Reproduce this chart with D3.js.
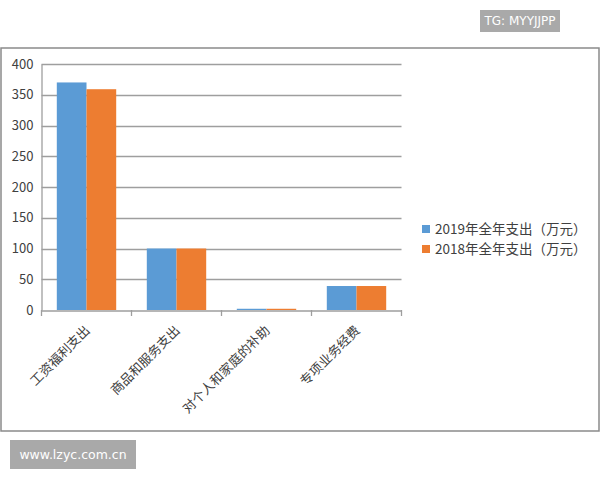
<!DOCTYPE html>
<html><head><meta charset="utf-8">
<script src="https://cdn.jsdelivr.net/npm/d3@7"></script>
<style>body{margin:0;background:#fff;}svg{display:block;}</style>
</head><body>
<svg id="c" width="600" height="480"></svg>
<script>
const categories = ["工资福利支出","商品和服务支出","对个人和家庭的补助","专项业务经费"];
const seriesNames = ["2019年全年支出（万元）","2018年全年支出（万元）"];
const values2019 = [370, 100, 2, 39];
const values2018 = [359, 100, 2, 39];
const yTicks = [0,50,100,150,200,250,300,350,400];
const colors = ["#5b9bd5","#ed7d31"];

const svg = d3.select("#c");
const font = "'Noto Sans CJK SC','Noto Sans',sans-serif";

// chart border
svg.append("rect").attr("x",1).attr("y",48).attr("width",598).attr("height",383)
  .attr("fill","#fff").attr("stroke","#8a8a8a").attr("stroke-width",1.5);

const x = d3.scaleBand().domain(categories).range([41.5,401.5]).paddingInner(0.34).paddingOuter(0.17);
const x0 = d3.scaleBand().domain(categories).range([41.5,401.5]);
const y = d3.scaleLinear().domain([0,400]).range([310,64]);
const xs = d3.scaleBand().domain([0,1]).range([0,x.bandwidth()]);

// gridlines
svg.append("g").selectAll("line").data(yTicks.filter(d=>d>0)).join("line")
  .attr("x1",41.5).attr("x2",401.5).attr("y1",d=>Math.round(y(d))+0.5).attr("y2",d=>Math.round(y(d))+0.5)
  .attr("stroke","#9e9e9e").attr("stroke-width",1.3);

// y axis
const ya = svg.append("g").attr("transform","translate(41.5,0)")
  .call(d3.axisLeft(y).tickValues(yTicks).tickSize(0).tickPadding(8));
ya.select(".domain").attr("stroke","#9e9e9e").attr("stroke-width",1.3);
ya.selectAll("text").attr("font-family",font).attr("font-size",13).attr("fill","#404040");

// bars
const data = categories.map((c,i)=>({c, v:[values2019[i], values2018[i]]}));
const g = svg.append("g");
data.forEach(d=>{
  d.v.forEach((v,k)=>{
    g.append("rect").attr("x",x(d.c)+xs(k)).attr("width",xs.bandwidth())
      .attr("y",y(v)).attr("height",y(0)-y(v)).attr("fill",colors[k]);
  });
});

// x axis
const xa = svg.append("g").attr("transform","translate(0,310.5)")
  .call(d3.axisBottom(x0).tickSize(0).tickFormat(""));
xa.select(".domain").attr("stroke","#9e9e9e").attr("stroke-width",1.3);
const bounds = [41.5].concat(categories.map(c=>x0(c)+x0.bandwidth()));
svg.append("g").selectAll("line").data(bounds).join("line")
  .attr("x1",d=>d).attr("x2",d=>d).attr("y1",310).attr("y2",316)
  .attr("stroke","#9e9e9e").attr("stroke-width",1.3);

// category labels rotated
svg.append("g").selectAll("text").data(categories).join("text")
  .attr("transform",d=>`translate(${x0(d)+x0.bandwidth()/2+1},${328}) rotate(-45)`)
  .attr("text-anchor","end").attr("dy","0.35em")
  .attr("font-family",font).attr("font-size",13).attr("fill","#404040")
  .text(d=>d);

// legend
const lg = svg.append("g");
seriesNames.forEach((s,i)=>{
  lg.append("rect").attr("x",422).attr("y",225+i*20).attr("width",8).attr("height",8).attr("fill",colors[i]);
  lg.append("text").attr("x",435).attr("y",229+i*20).attr("dy","0.35em")
    .attr("font-family",font).attr("font-size",13.5).attr("fill","#404040").text(s);
});

// watermarks
svg.append("rect").attr("x",480).attr("y",10).attr("width",80).attr("height",22).attr("fill","#a9a9a9");
svg.append("text").attr("x",520).attr("y",21).attr("dy","0.35em").attr("text-anchor","middle")
  .attr("font-family","'DejaVu Sans',sans-serif").attr("font-size",12).attr("fill","#fff").text("TG: MYYJJPP");
svg.append("rect").attr("x",10).attr("y",440).attr("width",126).attr("height",29).attr("fill","#a9a9a9");
svg.append("text").attr("x",73).attr("y",455).attr("dy","0.35em").attr("text-anchor","middle")
  .attr("font-family","'DejaVu Sans',sans-serif").attr("font-size",12.5).attr("fill","#fff").text("www.lzyc.com.cn");
</script>
</body></html>
